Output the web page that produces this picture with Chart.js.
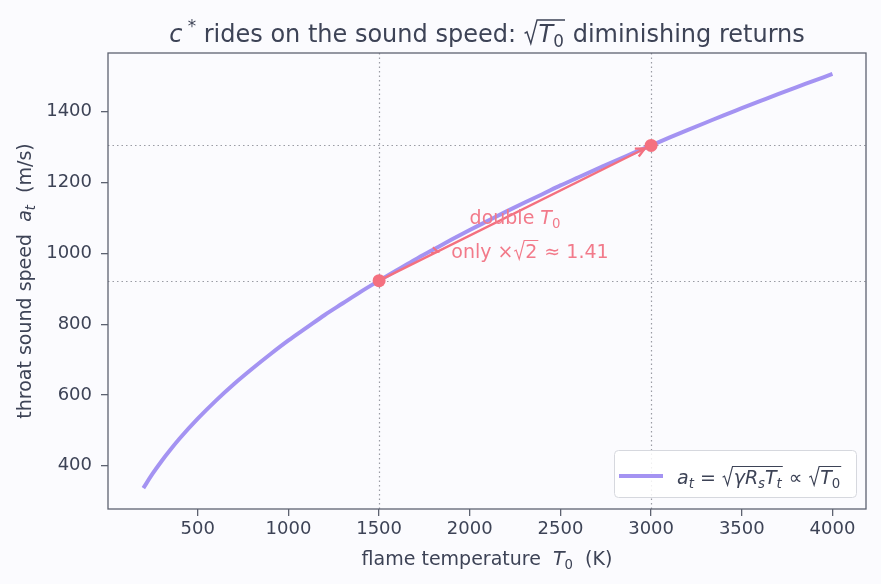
<!DOCTYPE html>
<html>
<head>
<meta charset="utf-8">
<script src="https://cdn.jsdelivr.net/npm/chart.js@4.4.0/dist/chart.umd.min.js"></script>
<style>
  body { margin: 0; background: #fbfbfe; }
  canvas { display: block; }
</style>
</head>
<body>
<canvas id="chart" width="881" height="584"></canvas>
<script>
// flame temperature T0 (K) and throat sound speed a_t (m/s)
const temps = [200, 250, 300, 350, 400, 500, 600, 700, 800, 900, 1000, 1100, 1200, 1300, 1400,
    1500, 1600, 1700, 1800, 1900, 2000, 2100, 2200, 2300, 2400, 2500, 2600, 2700,
    2800, 2900, 3000, 3100, 3200, 3300, 3400, 3500, 3600, 3700, 3800, 3900, 4000];
const speeds = [337, 377, 413, 446, 477, 533, 584, 631, 674, 715, 754, 790, 826, 859, 892,
    923, 953, 983, 1011, 1039, 1066, 1092, 1118, 1143, 1167, 1192, 1215, 1238,
    1261, 1283, 1305, 1327, 1348, 1369, 1390, 1410, 1430, 1450, 1469, 1488, 1507];

// the two marked states: T0 and 2*T0
const markT = [1500, 3000];
const markA = [923, 1305];

const xTicks = [500, 1000, 1500, 2000, 2500, 3000, 3500, 4000];
const yTicks = [400, 600, 800, 1000, 1200, 1400];

const FONT = '"DejaVu Sans", sans-serif';
const TEXT = '#3d4356';
const SPINE = '#5d6270';
const CURVE = '#a493f2';
const PINK = '#f4707f';

// tiny mathtext renderer: items are {t, i, sub, sup} or {sqrt: [...]}
function mathWidth(ctx, items, size) {
    let w = 0;
    items.forEach(it => {
        if (it.sqrt) {
            w += size * 0.62 + mathWidth(ctx, it.sqrt, size) + size * 0.05;
        } else {
            const s = (it.sub || it.sup) ? size * 0.7 : size;
            ctx.font = (it.i ? 'italic ' : '') + s + 'px ' + FONT;
            w += ctx.measureText(it.t).width;
        }
    });
    return w;
}

function drawMath(ctx, items, size, x, y) {
    items.forEach(it => {
        if (it.sqrt) {
            const inner = mathWidth(ctx, it.sqrt, size);
            const top = y - size * 0.92;
            ctx.save();
            ctx.lineWidth = Math.max(1, size * 0.06);
            ctx.beginPath();
            ctx.moveTo(x + size * 0.04, y - size * 0.36);
            ctx.lineTo(x + size * 0.14, y - size * 0.42);
            ctx.lineTo(x + size * 0.3, y + size * 0.06);
            ctx.lineTo(x + size * 0.56, top);
            ctx.lineTo(x + size * 0.62 + inner + size * 0.05, top);
            ctx.stroke();
            ctx.restore();
            drawMath(ctx, it.sqrt, size, x + size * 0.62, y);
            x += size * 0.62 + inner + size * 0.05;
        } else {
            const s = (it.sub || it.sup) ? size * 0.7 : size;
            ctx.font = (it.i ? 'italic ' : '') + s + 'px ' + FONT;
            let dy = 0;
            if (it.sub) dy = size * 0.2;
            if (it.sup) dy = -size * 0.42;
            ctx.fillText(it.t, x, y + dy);
            x += ctx.measureText(it.t).width;
        }
    });
    return x;
}

const titleMath = [{t: 'c', i: 1}, {t: ' *', sup: 1}, {t: ' rides on the sound speed: '},
    {sqrt: [{t: 'T', i: 1}, {t: '0', sub: 1}]}, {t: ' diminishing returns'}];
const xLabelMath = [{t: 'flame temperature  '}, {t: 'T', i: 1}, {t: '0', sub: 1}, {t: '  (K)'}];
const yLabelMath = [{t: 'throat sound speed  '}, {t: 'a', i: 1}, {t: 't', i: 1, sub: 1}, {t: '  (m/s)'}];
const legendMath = [{t: 'a', i: 1}, {t: 't', i: 1, sub: 1}, {t: ' = '},
    {sqrt: [{t: 'γR', i: 1}, {t: 's', i: 1, sub: 1}, {t: 'T', i: 1}, {t: 't', i: 1, sub: 1}]},
    {t: ' ∝ '}, {sqrt: [{t: 'T', i: 1}, {t: '0', sub: 1}]}];
const noteLine1 = [{t: 'double '}, {t: 'T', i: 1}, {t: '0', sub: 1}];
const noteLine2 = [{t: 'only ×'}, {sqrt: [{t: '2'}]}, {t: ' ≈ 1.41'}];

function chevron(ctx, x, y, ang, len) {
    ctx.beginPath();
    ctx.moveTo(x - Math.cos(ang - 0.45) * len, y - Math.sin(ang - 0.45) * len);
    ctx.lineTo(x, y);
    ctx.lineTo(x - Math.cos(ang + 0.45) * len, y - Math.sin(ang + 0.45) * len);
    ctx.stroke();
}

const decor = {
    id: 'decor',
    beforeDatasetsDraw(chart) {
        const ctx = chart.ctx;
        const a = chart.chartArea;
        const xs = chart.scales.x, ys = chart.scales.y;
        ctx.save();
        ctx.strokeStyle = '#9a9ca4';
        ctx.lineWidth = 1.2;
        ctx.setLineDash([1.5, 3]);
        markT.forEach(t => {
            const px = Math.round(xs.getPixelForValue(t)) + 0.5;
            ctx.beginPath(); ctx.moveTo(px, a.top); ctx.lineTo(px, a.bottom); ctx.stroke();
        });
        markA.forEach(v => {
            const py = Math.round(ys.getPixelForValue(v)) + 0.5;
            ctx.beginPath(); ctx.moveTo(a.left, py); ctx.lineTo(a.right, py); ctx.stroke();
        });
        ctx.restore();
    },
    afterDatasetsDraw(chart) {
        const ctx = chart.ctx;
        const a = chart.chartArea;
        const xs = chart.scales.x, ys = chart.scales.y;

        // arrow from T0 to 2*T0
        const x0 = xs.getPixelForValue(markT[0]), y0 = ys.getPixelForValue(markA[0]);
        const x1 = xs.getPixelForValue(markT[1]), y1 = ys.getPixelForValue(markA[1]);
        const ang = Math.atan2(y1 - y0, x1 - x0);
        const ex = x1 - Math.cos(ang) * 7, ey = y1 - Math.sin(ang) * 7;
        ctx.save();
        ctx.strokeStyle = PINK;
        ctx.lineWidth = 2.4;
        ctx.beginPath(); ctx.moveTo(x0, y0); ctx.lineTo(ex, ey); ctx.stroke();
        chevron(ctx, ex, ey, ang, 10);
        // small leader tick under the note
        ctx.lineWidth = 1.8;
        chevron(ctx, 438, 252, 0.3, 7);

        // markers
        ctx.fillStyle = PINK;
        [[x0, y0], [x1, y1]].forEach(p => {
            ctx.beginPath(); ctx.arc(p[0], p[1], 6.5, 0, Math.PI * 2); ctx.fill();
        });

        // annotation text
        ctx.fillStyle = '#f27a8a';
        ctx.strokeStyle = '#f27a8a';
        ctx.textBaseline = 'alphabetic';
        let w = mathWidth(ctx, noteLine1, 19);
        drawMath(ctx, noteLine1, 19, 515 - w / 2, 224);
        w = mathWidth(ctx, noteLine2, 19);
        drawMath(ctx, noteLine2, 19, 530 - w / 2, 258);
        ctx.restore();

        // spines
        ctx.save();
        ctx.strokeStyle = SPINE;
        ctx.lineWidth = 1.3;
        ctx.strokeRect(a.left, a.top, a.right - a.left, a.bottom - a.top);
        ctx.restore();

        // legend
        ctx.save();
        const lx = 614, ly = 450, lw = 242, lh = 47, r = 4;
        ctx.fillStyle = 'rgba(255,255,255,0.85)';
        ctx.strokeStyle = '#d6d8de';
        ctx.lineWidth = 1;
        ctx.beginPath();
        ctx.roundRect(lx + 0.5, ly + 0.5, lw, lh, r);
        ctx.fill(); ctx.stroke();
        ctx.strokeStyle = CURVE;
        ctx.lineWidth = 4;
        ctx.beginPath(); ctx.moveTo(619, 476); ctx.lineTo(663, 476); ctx.stroke();
        ctx.fillStyle = TEXT;
        ctx.strokeStyle = TEXT;
        drawMath(ctx, legendMath, 19, 677, 484);
        ctx.restore();

        // title and axis labels
        ctx.save();
        ctx.fillStyle = TEXT;
        ctx.strokeStyle = TEXT;
        const mid = (a.left + a.right) / 2;
        w = mathWidth(ctx, titleMath, 24);
        drawMath(ctx, titleMath, 24, mid - w / 2, 42);
        w = mathWidth(ctx, xLabelMath, 19);
        drawMath(ctx, xLabelMath, 19, mid - w / 2, 565);
        ctx.translate(31, (a.top + a.bottom) / 2);
        ctx.rotate(-Math.PI / 2);
        w = mathWidth(ctx, yLabelMath, 19);
        drawMath(ctx, yLabelMath, 19, -w / 2, 0);
        ctx.restore();
    }
};

new Chart(document.getElementById('chart'), {
    type: 'line',
    data: {
        datasets: [{
            data: temps.map((t, i) => ({x: t, y: speeds[i]})),
            borderColor: CURVE,
            borderWidth: 4,
            pointRadius: 0,
            cubicInterpolationMode: 'monotone',
            fill: false
        }]
    },
    options: {
        responsive: false,
        animation: false,
        devicePixelRatio: 1,
        layout: {padding: {top: 53, right: 15, left: 0, bottom: 0}},
        plugins: {legend: {display: false}, tooltip: {enabled: false}},
        scales: {
            x: {
                type: 'linear',
                min: 5,
                max: 4185,
                afterBuildTicks: s => { s.ticks = xTicks.map(v => ({value: v})); },
                afterFit: s => { s.height = 75; },
                grid: {display: true, drawOnChartArea: false, tickLength: 7, color: SPINE, lineWidth: 1.3},
                border: {display: false},
                ticks: {color: TEXT, font: {family: FONT, size: 18}, padding: 3, maxRotation: 0,
                    callback: v => String(v)}
            },
            y: {
                type: 'linear',
                min: 278,
                max: 1566,
                afterBuildTicks: s => { s.ticks = yTicks.map(v => ({value: v})); },
                afterFit: s => { s.width = 108; },
                grid: {display: true, drawOnChartArea: false, tickLength: 7, color: SPINE, lineWidth: 1.3},
                border: {display: false},
                ticks: {color: TEXT, font: {family: FONT, size: 18}, padding: 9,
                    callback: v => String(v)}
            }
        }
    },
    plugins: [decor]
});
</script>
</body>
</html>
